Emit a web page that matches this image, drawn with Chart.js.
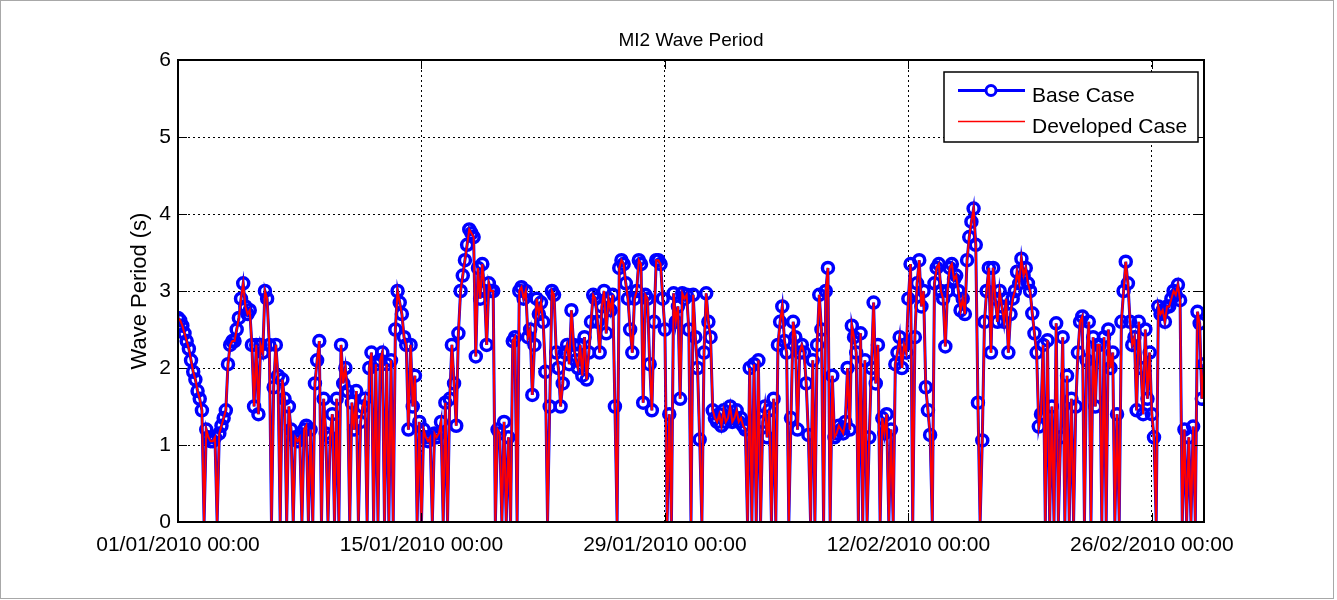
<!DOCTYPE html>
<html>
<head>
<meta charset="utf-8">
<title>MI2 Wave Period</title>
<script src="https://cdn.jsdelivr.net/npm/chart.js@4.4.1/dist/chart.umd.min.js"></script>
<style>
    html, body { margin: 0; padding: 0; background: #fff; }
    #wrap { width: 1337px; height: 600px; }
</style>
</head>
<body>
<div id="wrap"><canvas id="waveChart" width="1337" height="600"></canvas></div>
<script>
// MI2 Wave Period - Base Case vs Developed Case

// Time axis: samples every 3 hours from 01/01/2010 00:00 (x in days)
const stepDays = 3 / 24;
const tickDays = [0, 14, 28, 42, 56];
const tickLabels = ['01/01/2010 00:00', '15/01/2010 00:00', '29/01/2010 00:00', '12/02/2010 00:00', '26/02/2010 00:00'];
const yTicks = [0, 1, 2, 3, 4, 5, 6];

// Wave period (s), one row per day (8 samples)
const baseCase = [
    2.65, 2.62, 2.55, 2.45, 2.35, 2.25, 2.1, 1.95,
    1.85, 1.7, 1.6, 1.45, 0, 1.2, 1.1, 1.05,
    1.05, 1.1, 0, 1.15, 1.25, 1.35, 1.45, 2.05,
    2.3, 2.35, 2.35, 2.5, 2.65, 2.9, 3.1, 2.8,
    2.7, 2.75, 2.3, 1.5, 2.3, 1.4, 2.3, 2.2,
    3.0, 2.9, 2.3, 0, 1.75, 2.3, 1.9, 0,
    1.85, 1.6, 0, 1.5, 1.2, 0, 1.1, 1.05,
    1.1, 0, 1.2, 1.25, 0, 1.2, 0, 1.8,
    2.1, 2.35, 0, 1.6, 1.15, 0, 1.1, 1.4,
    0, 1.6, 0, 2.3, 1.8, 2.0, 1.7, 0,
    1.55, 1.2, 1.7, 0, 1.3, 1.5, 1.6, 0,
    2.0, 2.2, 0, 2.05, 0, 2.1, 2.2, 0,
    2.05, 0, 2.1, 0, 2.5, 3.0, 2.85, 2.7,
    2.4, 2.3, 1.2, 2.3, 1.5, 1.9, 0, 1.3,
    0, 1.2, 1.1, 1.05, 1.1, 0, 1.15, 1.1,
    1.15, 1.3, 0, 1.55, 0, 1.6, 2.3, 1.8,
    1.25, 2.45, 3.0, 3.2, 3.4, 3.6, 3.8, 3.75,
    3.7, 2.15, 3.3, 2.9, 3.35, 3.0, 2.3, 3.1,
    3.0, 3.0, 0, 1.2, 1.15, 0, 1.3, 0,
    1.1, 0, 2.35, 2.4, 0, 3.0, 3.05, 2.9,
    3.0, 2.4, 2.5, 1.65, 2.3, 2.9, 2.7, 2.85,
    2.6, 1.95, 0, 1.5, 3.0, 2.95, 2.2, 2.0,
    1.5, 1.8, 2.2, 2.3, 2.05, 2.75, 2.3, 2.1,
    2.0, 2.3, 1.9, 2.4, 1.85, 2.2, 2.6, 2.95,
    2.9, 2.6, 2.2, 2.8, 3.0, 2.45, 2.9, 2.75,
    2.95, 1.5, 0, 3.3, 3.4, 3.35, 3.1, 2.9,
    2.5, 2.2, 2.9, 3.0, 3.4, 3.35, 1.55, 2.95,
    2.9, 2.05, 1.45, 2.6, 3.4, 3.4, 3.35, 2.9,
    2.5, 0, 1.4, 0, 2.97, 2.6, 2.8, 1.6,
    2.97, 2.9, 2.95, 2.5, 0, 2.95, 2.4, 2.0,
    1.07, 0, 2.2, 2.97, 2.6, 2.4, 1.45, 1.35,
    1.3, 1.4, 1.25, 1.45, 1.3, 1.35, 1.5, 1.3,
    1.35, 1.45, 1.3, 1.35, 1.25, 1.2, 0, 2.0,
    0, 2.05, 0, 2.1, 0, 1.3, 1.5, 1.1,
    1.45, 0, 1.6, 0, 2.3, 2.6, 2.8, 2.35,
    2.2, 0, 1.35, 2.6, 2.4, 1.2, 2.2, 2.3,
    2.2, 1.8, 1.13, 0, 2.1, 0, 2.3, 2.95,
    2.5, 0, 3.0, 3.3, 0, 1.9, 1.1, 1.15,
    1.25, 1.2, 1.15, 1.3, 2.0, 1.2, 2.55, 2.4,
    2.2, 0, 2.45, 0, 2.1, 0, 1.1, 2.0,
    2.85, 1.8, 2.3, 0, 1.35, 1.15, 1.4, 0,
    1.2, 0, 2.05, 2.2, 2.4, 2.0, 2.3, 2.2,
    2.9, 3.35, 0, 2.4, 3.1, 3.4, 2.8, 3.0,
    1.75, 1.45, 1.13, 0, 3.1, 3.3, 3.35, 3.0,
    2.9, 2.28, 3.0, 3.3, 3.35, 3.15, 3.2, 3.0,
    2.75, 2.9, 2.7, 3.4, 3.7, 3.9, 4.07, 3.6,
    1.55, 0, 1.06, 2.6, 3.0, 3.3, 2.2, 3.3,
    2.9, 2.6, 3.0, 2.8, 2.6, 2.9, 2.2, 2.7,
    2.9, 3.0, 3.25, 3.1, 3.42, 3.2, 3.3, 3.1,
    3.0, 2.71, 2.45, 2.2, 1.24, 1.4, 2.3, 0,
    2.36, 0, 1.5, 0, 2.58, 0, 1.1, 2.4,
    0, 1.9, 0, 1.6, 0, 1.5, 2.2, 2.6,
    2.67, 0, 2.1, 2.6, 0, 2.4, 1.5, 2.3,
    2.3, 0, 2.4, 0, 2.5, 2.0, 2.2, 0,
    1.4, 0, 2.6, 3.0, 3.38, 3.1, 2.6, 2.3,
    2.4, 1.45, 2.6, 2.0, 1.4, 2.5, 1.6, 2.2,
    1.4, 1.1, 0, 2.8, 2.7, 2.75, 2.6, 2.8,
    2.8, 2.9, 3.0, 2.95, 3.08, 2.88, 0, 1.2,
    0, 1.1, 0, 1.24, 0, 2.73, 2.58, 1.6,
    2.05
];

// The developed case sits on top of the base case everywhere on the plot
const developedCase = baseCase.slice();

Chart.defaults.font.family = '"Liberation Sans", Arial, Helvetica, sans-serif';
Chart.defaults.color = '#000';

function toPoints(values) {
    return values.map((v, i) => ({ x: i * stepDays, y: v }));
}

// White figure with the thin grey frame
const figureFrame = {
    id: 'figureFrame',
    beforeDraw(chart) {
        const ctx = chart.ctx;
        ctx.save();
        ctx.fillStyle = '#fff';
        ctx.fillRect(0, 0, chart.width, chart.height);
        ctx.strokeStyle = '#a8a8a8';
        ctx.lineWidth = 1;
        ctx.strokeRect(0.5, 0.5, 1333, 598);
        ctx.restore();
    }
};

// MATLAB style box with inward ticks
const axesBox = {
    id: 'axesBox',
    afterDatasetsDraw(chart) {
        const { ctx, chartArea: a, scales } = chart;
        const len = 9;
        ctx.save();
        ctx.strokeStyle = '#000';
        ctx.lineWidth = 1;
        ctx.beginPath();
        tickDays.forEach(d => {
            const x = Math.round(scales.x.getPixelForValue(d)) + 0.5;
            ctx.moveTo(x, a.bottom); ctx.lineTo(x, a.bottom - len);
            ctx.moveTo(x, a.top); ctx.lineTo(x, a.top + len);
        });
        yTicks.forEach(v => {
            const y = Math.round(scales.y.getPixelForValue(v)) + 0.5;
            ctx.moveTo(a.left, y); ctx.lineTo(a.left + len, y);
            ctx.moveTo(a.right, y); ctx.lineTo(a.right - len, y);
        });
        ctx.stroke();
        ctx.lineWidth = 2;
        ctx.strokeRect(a.left, a.top, a.right - a.left, a.bottom - a.top);
        ctx.restore();
    }
};

// Boxed legend in the top right corner of the axes
const legendBox = {
    id: 'legendBox',
    afterDraw(chart) {
        const { ctx, chartArea: a } = chart;
        const w = 254, h = 70;
        const x0 = a.right - 6 - w, y0 = a.top + 12;
        const line1 = y0 + 18.5, line2 = y0 + 49.5;
        ctx.save();
        ctx.fillStyle = '#fff';
        ctx.fillRect(x0, y0, w, h);
        ctx.strokeStyle = '#000';
        ctx.lineWidth = 1.5;
        ctx.strokeRect(x0, y0, w, h);

        ctx.strokeStyle = '#0000ff';
        ctx.lineWidth = 3;
        ctx.beginPath();
        ctx.moveTo(x0 + 14, line1); ctx.lineTo(x0 + 81, line1);
        ctx.stroke();
        ctx.beginPath();
        ctx.arc(x0 + 47, line1, 5, 0, Math.PI * 2);
        ctx.fillStyle = '#fff';
        ctx.fill();
        ctx.lineWidth = 3;
        ctx.stroke();

        ctx.strokeStyle = '#ff0000';
        ctx.lineWidth = 1.5;
        ctx.beginPath();
        ctx.moveTo(x0 + 14, line2); ctx.lineTo(x0 + 81, line2);
        ctx.stroke();

        ctx.fillStyle = '#000';
        ctx.font = '21px "Liberation Sans", Arial, sans-serif';
        ctx.textBaseline = 'middle';
        ctx.fillText('Base Case', x0 + 88, y0 + 24.5);
        ctx.fillText('Developed Case', x0 + 88, y0 + 55.5);
        ctx.restore();
    }
};

const ctx = document.getElementById('waveChart').getContext('2d');
const waveChart = new Chart(ctx, {
    type: 'line',
    data: {
        datasets: [
            {
                label: 'Base Case',
                data: toPoints(baseCase),
                borderColor: '#0000ff',
                borderWidth: 3,
                pointRadius: c => (c.raw && c.raw.y === 0 ? 0 : 5.5),
                pointBorderColor: '#0000ff',
                pointBackgroundColor: 'rgba(0, 0, 0, 0)',
                pointBorderWidth: 3.5,
                tension: 0,
                order: 2
            },
            {
                label: 'Developed Case',
                data: toPoints(developedCase),
                borderColor: '#ff0000',
                borderWidth: 2,
                pointRadius: 0,
                tension: 0,
                order: 1
            }
        ]
    },
    options: {
        responsive: false,
        devicePixelRatio: 1,
        animation: false,
        events: [],
        layout: { padding: { left: 0, top: 0, right: 133, bottom: 0 } },
        plugins: {
            legend: { display: false },
            tooltip: { enabled: false },
            title: {
                display: true,
                fullSize: false,
                text: 'MI2 Wave Period',
                color: '#000',
                font: { size: 19, weight: 'normal' },
                padding: { top: 29, bottom: 8.2 }
            }
        },
        scales: {
            x: {
                type: 'linear',
                min: 0,
                max: 59,
                afterBuildTicks: scale => {
                    scale.ticks = tickDays.map(v => ({ value: v }));
                },
                afterFit: scale => { scale.height = 78; },
                ticks: {
                    autoSkip: false,
                    maxRotation: 0,
                    padding: 11,
                    font: { size: 21 },
                    callback: (value, index) => tickLabels[index]
                },
                grid: { color: '#000', lineWidth: 1, drawTicks: false },
                border: { display: false, dash: [2, 3] }
            },
            y: {
                min: 0,
                max: 6,
                afterBuildTicks: scale => {
                    scale.ticks = yTicks.map(v => ({ value: v }));
                },
                afterFit: scale => { scale.width = 178; },
                ticks: {
                    padding: 7,
                    font: { size: 21 }
                },
                grid: { color: '#000', lineWidth: 1, drawTicks: false },
                border: { display: false, dash: [2, 3] },
                title: {
                    display: true,
                    text: 'Wave Period (s)',
                    font: { size: 22 },
                    padding: { top: 127, bottom: 0 }
                }
            }
        }
    },
    plugins: [figureFrame, axesBox, legendBox]
});
</script>
</body>
</html>
